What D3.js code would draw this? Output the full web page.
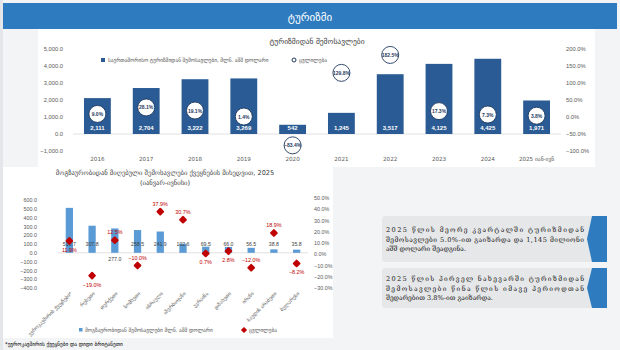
<!DOCTYPE html>
<html><head><meta charset="utf-8">
<script src="https://cdn.jsdelivr.net/npm/d3@7"></script>
<style>body{margin:0;background:#f3f4f6}svg{display:block}</style>
</head><body>
<script>
// ---- data: top chart ----
const years = ["2016","2017","2018","2019","2020","2021","2022","2023","2024","2025 იან-ივნ"];
const revenue = [2111,2704,3222,3269,542,1245,3517,4125,4425,1971];
const growth = [9.0,28.1,19.1,1.4,-83.4,129.8,182.5,17.3,7.3,3.8];
const leftTicks = [5000,4000,3000,2000,1000,0,-1000];
const rightTicks = [200,150,100,50,0,-50,-100];
// ---- data: bottom chart ----
const countries = ["ევროკავშირის ქვეყნები*","რუსეთი","თურქეთი","სომხეთი","ისრაელი","აზერბაიჯანი","უკრაინა","ყაზახეთი","ირანი","საუდის არაბეთი","ბელარუსი"];
const countryRevenue = [510.7,307.8,277.0,258.5,241.9,102.6,69.5,66.0,56.5,38.8,35.8];
const countryChange = [11.9,-19.0,12.5,-10.0,37.9,30.7,0.7,2.8,-12.0,18.9,-8.2];
const leftTicks2 = [600,500,400,300,200,100,0,-100,-200,-300,-400];
const rightTicks2 = [50,40,30,20,10,0,-10,-20,-30];
// label placement (style)
const changeLabelPos = ["below","below","above","above","above","above","below","below","above","above","below"];
const barLabelBelow = [false,false,true,false,false,false,false,false,false,false,false];

const GE = "'DejaVu Sans', sans-serif";
const NUM = "'Liberation Sans', Arial, sans-serif";
const svg = d3.select("body").append("svg").attr("width",620).attr("height",350);

svg.append("rect").attr("width",620).attr("height",350).attr("fill","#f3f4f6");
svg.append("rect").attr("x",0).attr("y",0).attr("width",3).attr("height",350).attr("fill","#e4e6ea");
// header
svg.append("rect").attr("x",3).attr("y",3).attr("width",614).attr("height",26).attr("fill","#2e7cbf");
svg.append("text").attr("x",310).attr("y",21).attr("text-anchor","middle").attr("fill","#fff")
  .attr("font-family",GE).attr("font-size",11).text("ტურიზმი");
// panels
svg.append("rect").attr("x",38).attr("y",29).attr("width",557).attr("height",138).attr("fill","#fff");
svg.append("rect").attr("x",3).attr("y",167).attr("width",330).attr("height",171).attr("fill","#fff");

// ===== top chart =====
const x = d3.scaleBand().domain(years).range([73,561]).paddingInner(0.45).paddingOuter(0.225);
const yL = d3.scaleLinear().domain([-1000,5000]).range([151,49]);
const yR = d3.scaleLinear().domain([-100,200]).range([151,49]);
const g = svg.append("g");

g.append("text").attr("x",317).attr("y",44).attr("text-anchor","middle").attr("fill","#404040")
  .attr("font-family",GE).attr("font-size",7.5).text("ტურიზმიდან შემოსავლები");

const axL = g.append("g").attr("transform","translate(66,0)")
  .call(d3.axisLeft(yL).tickValues(leftTicks).tickSize(0).tickFormat(d3.format(",.1f")));
const axR = g.append("g").attr("transform","translate(563,0)")
  .call(d3.axisRight(yR).tickValues(rightTicks).tickSize(0).tickFormat(d=>d3.format(".1f")(d)+"%"));
[axL,axR].forEach(a=>{a.select(".domain").remove();a.selectAll("text").attr("fill","#595959").attr("font-family",NUM).attr("font-size",5.8);});

g.append("line").attr("x1",73).attr("x2",561).attr("y1",yL(0)).attr("y2",yL(0)).attr("stroke","#d9d9d9").attr("stroke-width",0.8);

g.selectAll("rect.bar").data(revenue).join("rect").attr("class","bar")
  .attr("x",(d,i)=>x(years[i])).attr("width",x.bandwidth())
  .attr("y",d=>yL(Math.max(0,d))).attr("height",d=>Math.abs(yL(d)-yL(0))).attr("fill","#2a5b94");
g.selectAll("text.bl").data(revenue).join("text").attr("class","bl")
  .attr("x",(d,i)=>x(years[i])+x.bandwidth()/2).attr("y",yL(0)-4).attr("text-anchor","middle")
  .attr("fill","#fff").attr("font-family",NUM).attr("font-size",6).attr("font-weight","bold")
  .text(d=>d3.format(",")(d));
g.selectAll("text.xl").data(years).join("text").attr("class","xl")
  .attr("x",d=>x(d)+x.bandwidth()/2).attr("y",161).attr("text-anchor","middle")
  .attr("fill","#595959").attr("font-family",GE).attr("font-size",5.6).text(d=>d);
g.selectAll("circle.gc").data(growth).join("circle").attr("class","gc")
  .attr("cx",(d,i)=>x(years[i])+x.bandwidth()/2).attr("cy",d=>yR(d)).attr("r",8.5)
  .attr("fill","#fff").attr("stroke","#1f3a5f").attr("stroke-width",0.9);
g.selectAll("text.gl").data(growth).join("text").attr("class","gl")
  .attr("x",(d,i)=>x(years[i])+x.bandwidth()/2).attr("y",d=>yR(d)+2).attr("text-anchor","middle")
  .attr("fill","#1f3a5f").attr("font-family",NUM).attr("font-size",5).attr("font-weight","bold")
  .text(d=>d3.format(".1f")(d)+"%");
// legend
g.append("rect").attr("x",101).attr("y",58).attr("width",4).attr("height",4).attr("fill","#2a5b94");
g.append("text").attr("x",108).attr("y",62).attr("fill","#595959").attr("font-family",GE).attr("font-size",5.3)
  .text("საერთაშორისო ტურიზმიდან შემოსავლები, მლნ. აშშ დოლარი");
g.append("circle").attr("cx",294).attr("cy",60).attr("r",2).attr("fill","#fff").attr("stroke","#1f3a5f").attr("stroke-width",1);
g.append("text").attr("x",299).attr("y",62).attr("fill","#595959").attr("font-family",GE).attr("font-size",5.3).text("ცვლილება");

// ===== bottom chart =====
const x2 = d3.scaleBand().domain(countries).range([58,308]).paddingInner(0.68).paddingOuter(0.34);
const yL2 = d3.scaleLinear().domain([-400,600]).range([288,200]);
const yR2 = d3.scaleLinear().domain([-30,50]).range([288,198]);
const b = svg.append("g");
b.append("text").attr("x",165).attr("y",175).attr("text-anchor","middle").attr("fill","#404040")
  .attr("font-family",GE).attr("font-size",6.6).text("მოგზაურობიდან მიღებული  შემოსავლები ქვეყნების მიხედვით, 2025");
b.append("text").attr("x",165).attr("y",185).attr("text-anchor","middle").attr("fill","#404040")
  .attr("font-family",GE).attr("font-size",6.6).text("(იანვარ-ივნისი)");
const bL = b.append("g").attr("transform","translate(40,0)")
  .call(d3.axisLeft(yL2).tickValues(leftTicks2).tickSize(0).tickFormat(d3.format(".1f")));
const bR = b.append("g").attr("transform","translate(311,0)")
  .call(d3.axisRight(yR2).tickValues(rightTicks2).tickSize(0).tickFormat(d=>d3.format(".1f")(d)+"%"));
[bL,bR].forEach(a=>{a.select(".domain").remove();a.selectAll("text").attr("fill","#595959").attr("font-family",NUM).attr("font-size",5.4);});
b.append("line").attr("x1",58).attr("x2",308).attr("y1",yL2(0)).attr("y2",yL2(0)).attr("stroke","#d9d9d9").attr("stroke-width",0.8);
b.selectAll("rect.cb").data(countryRevenue).join("rect").attr("class","cb")
  .attr("x",(d,i)=>x2(countries[i])).attr("width",x2.bandwidth())
  .attr("y",d=>yL2(d)).attr("height",d=>yL2(0)-yL2(d)).attr("fill","#5b9bd5");
b.selectAll("text.cbl").data(countryRevenue).join("text").attr("class","cbl")
  .attr("x",(d,i)=>x2(countries[i])+x2.bandwidth()/2)
  .attr("y",(d,i)=>barLabelBelow[i]?yL2(0)+8:yL2(0)-6.5).attr("text-anchor","middle")
  .attr("fill","#404040").attr("font-family",NUM).attr("font-size",5.2).text(d=>d3.format(".1f")(d));
b.selectAll("rect.dm").data(countryChange).join("rect").attr("class","dm")
  .attr("x",-3).attr("y",-3).attr("width",6).attr("height",6).attr("rx",1)
  .attr("transform",(d,i)=>`translate(${x2(countries[i])+x2.bandwidth()/2},${yR2(d)}) rotate(45)`)
  .attr("fill","#c00000");
b.selectAll("text.dl").data(countryChange).join("text").attr("class","dl")
  .attr("x",(d,i)=>x2(countries[i])+x2.bandwidth()/2)
  .attr("y",(d,i)=>changeLabelPos[i]==="above"?yR2(d)-6:yR2(d)+11).attr("text-anchor","middle")
  .attr("fill","#c00000").attr("font-family",NUM).attr("font-size",5.4).text(d=>d3.format(".1f")(d)+"%");
b.selectAll("text.cx").data(countries).join("text").attr("class","cx")
  .attr("transform",d=>`translate(${x2(d)+x2.bandwidth()/2+3},294) rotate(-45)`)
  .attr("text-anchor","end").attr("fill","#595959").attr("font-family",GE).attr("font-size",5).text(d=>d);
// legend
b.append("rect").attr("x",79).attr("y",328).attr("width",3.5).attr("height",3.5).attr("fill","#5b9bd5");
b.append("text").attr("x",85).attr("y",332).attr("fill","#595959").attr("font-family",GE).attr("font-size",5.3)
  .text("მოგზაურობიდან შემოსავლები მლნ. აშშ დოლარი");
b.append("rect").attr("x",-2.2).attr("y",-2.2).attr("width",4.4).attr("height",4.4)
  .attr("transform","translate(244,330) rotate(45)").attr("fill","#c00000");
b.append("text").attr("x",249).attr("y",332).attr("fill","#595959").attr("font-family",GE).attr("font-size",5.3).text("ცვლილება");
svg.append("text").attr("x",5).attr("y",346).attr("fill","#000").attr("font-family",GE).attr("font-size",5.3)
  .text("*ევროკავშირის ქვეყნები და დიდი ბრიტანეთი");

// ===== text boxes =====
const boxes = [
  {y:216,h:46,lines:["2025 წლის მეორე კვარტალში ტურიზმიდან","შემოსავლები 5.0%-ით გაიზარდა და 1,145 მილიონი","აშშ დოლარი შეადგინა."]},
  {y:268,h:40,lines:["2025 წლის პირველ ნახევარში ტურიზმიდან","შემოსავლები წინა წლის იმავე პერიოდთან","შედარებით 3.8%-ით გაიზარდა."]}
];
boxes.forEach(bx=>{
  svg.append("rect").attr("x",382).attr("y",bx.y).attr("width",224).attr("height",bx.h).attr("rx",3).attr("fill","#e6e7e9");
  svg.append("path").attr("d",`M592,${bx.y}L607,${bx.y}L607,${bx.y+bx.h}L592,${bx.y+bx.h}L587,${bx.y+bx.h/2}Z`).attr("fill","#2e7cbf");
  const n = bx.lines.length;
  const top = bx.y + bx.h/2 - (n-1)*9.5/2 + 2.5;
  bx.lines.forEach((l,i)=>{
    const t = svg.append("text").attr("x",386).attr("y",top+i*9.5).attr("fill","#222")
      .attr("font-family","'DejaVu Serif', serif").attr("font-size",6.6).text(l);
    if(i<n-1) t.attr("textLength",198).attr("lengthAdjust","spacing");
  });
});
</script>
</body></html>
